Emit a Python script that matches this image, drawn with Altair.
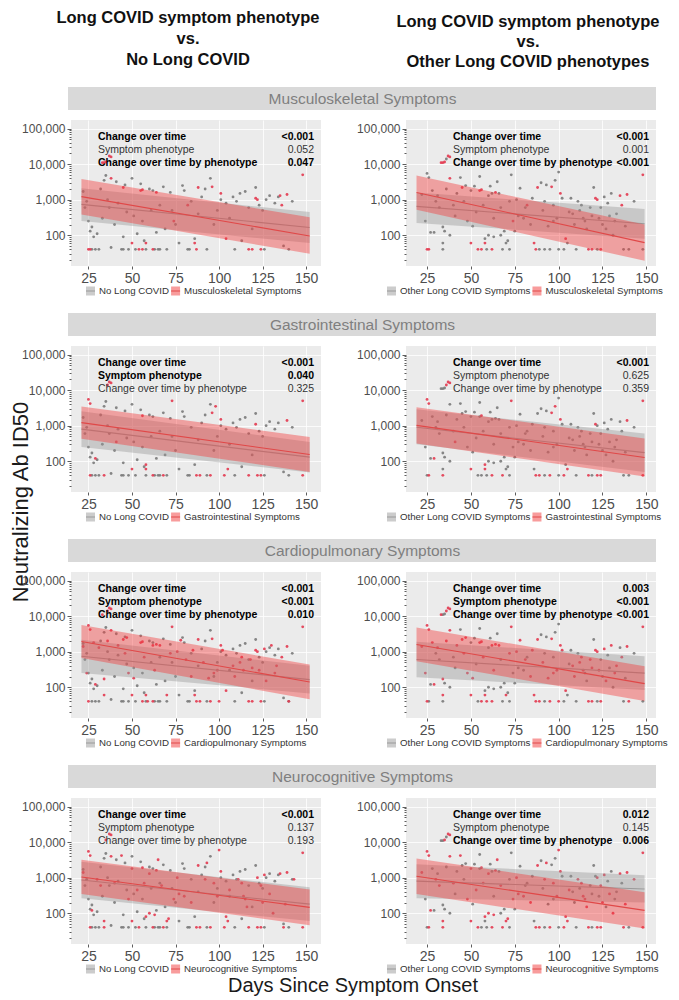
import altair as alt
import pandas as pd

# ---------------- text content ----------------
PHENOTYPES = ["Musculoskeletal Symptoms", "Gastrointestinal Symptoms",
              "Cardiopulmonary Symptoms", "Neurocognitive Symptoms"]
PHENO_CODES = ["M", "G", "C", "N"]
TITLE_LEFT = ["Long COVID symptom phenotype", "vs.", "No Long COVID"]
TITLE_RIGHT = ["Long COVID symptom phenotype", "vs.", "Other Long COVID phenotypes"]
REF_LEFT = "No Long COVID"
REF_RIGHT = "Other Long COVID Symptoms"
TERMS = ["Change over time", "Symptom phenotype", "Change over time by phenotype"]
P_LEFT = [["<0.001", "0.052", "0.047"], ["<0.001", "0.040", "0.325"],
          ["<0.001", "<0.001", "0.010"], ["<0.001", "0.137", "0.193"]]
P_RIGHT = [["<0.001", "0.001", "<0.001"], ["<0.001", "0.625", "0.359"],
           ["0.003", "<0.001", "<0.001"], ["0.012", "0.145", "0.006"]]
BOLD_LEFT = [[1, 0, 1], [1, 1, 0], [1, 1, 1], [1, 0, 0]]
BOLD_RIGHT = [[1, 0, 1], [1, 0, 0], [1, 1, 1], [1, 0, 1]]
X_TICKS = [25, 50, 75, 100, 125, 150]
Y_TICKS = [20, 30, 40, 50, 60, 70, 80, 90, 100, 200, 300, 400, 500, 600, 700, 800, 900,
           1000, 2000, 3000, 4000, 5000, 6000, 7000, 8000, 9000, 10000, 20000, 30000,
           40000, 50000, 60000, 70000, 80000, 90000, 100000]

# ---------------- participants ----------------
NOLC_DAY = [22, 23, 24, 25, 26, 27, 27, 28, 29, 30, 31, 32, 33, 34, 35, 36, 37, 38, 40, 41,
            42, 44, 45, 46, 47, 48, 50, 51, 52, 53, 55, 56, 57, 58, 60, 61, 62, 63, 64, 65,
            66, 68, 69, 70, 72, 73, 75, 77, 79, 80, 82, 84, 86, 88, 90, 92, 93, 95, 97, 99,
            101, 104, 106, 108, 110, 112, 113, 115, 117, 119, 121, 123, 125, 127, 129, 132,
            134, 137, 140, 142, 45, 66, 83, 109, 126]
NOLC_TITER = [1700, 600, 900, 250, 130, 170, 40, 90, 40, 110, 40, 2000, 300, 3500, 4800, 1000,
              600, 45, 200, 3200, 800, 40, 90, 2600, 450, 40, 4000, 350, 40, 110, 2800, 250,
              70, 40, 2000, 500, 1800, 40, 120, 40, 700, 2300, 150, 40, 1600, 500, 200, 60,
              2500, 1800, 40, 900, 80, 400, 1200, 2000, 40, 4000, 200, 500, 1000, 800, 300,
              1200, 900, 1500, 70, 1700, 600, 150, 2200, 700, 500, 1000, 1300, 800, 1200, 50,
              40, 900, 40, 40, 40, 40, 40]

LC_DAY = [22, 24, 25, 26, 25, 26, 27, 29, 30, 31, 33, 34, 35, 36, 37, 38, 34, 35, 34, 34,
          36, 38, 38, 40, 42, 44, 45, 47, 48, 50, 50, 51, 52, 54, 55, 55, 56, 56, 58, 58,
          59, 60, 60, 61, 62, 62, 63, 64, 65, 66, 67, 68, 69, 70, 71, 72, 73, 74, 75, 76,
          78, 80, 82, 85, 86, 87, 88, 89, 90, 91, 92, 93, 94, 95, 96, 97, 98, 99, 100, 100,
          101, 102, 103, 104, 105, 107, 108, 110, 111, 112, 114, 116, 117, 118, 119, 120, 121, 122, 122, 123,
          124, 125, 126, 128, 130, 131, 133, 135, 136, 137, 139, 140, 143, 148, 148,
          28, 32, 41, 46, 53, 57, 63, 67, 72, 77, 81, 84, 92, 97, 106, 109, 113, 115, 119, 124,
          127, 129, 132, 138]
LC_TITER = [1400, 250, 5500, 4200, 40, 40, 120, 120, 900, 1300, 11000, 11000, 11500, 14000, 17000, 16000, 170, 130, 60, 40,
            2000, 4000, 100, 700, 1500, 4200, 2200, 2500, 250, 1800, 60, 180, 2400, 40, 1800, 4500, 1900, 40, 80, 60,
            40, 100, 1300, 2400, 1500, 40, 90, 1600, 3200, 1500, 100, 40, 130, 60, 70, 40, 5000, 250, 130, 1000,
            2100, 300, 700, 1100, 60, 40, 2200, 40, 3000, 500, 40, 2600, 180, 40, 2300, 700, 3500, 300, 6000, 40,
            1500, 1100, 40, 80, 60, 1100, 400, 40, 900, 500, 300, 150, 40, 600, 40, 2200, 1100, 1000, 40, 300,
            40, 200, 1200, 800, 1500, 100, 400, 1300, 700, 40, 1400, 40, 900, 5000, 40,
            1800, 600, 350, 900, 450, 700, 300, 600, 900, 350, 600, 200, 900, 250, 450, 200, 700, 250, 350, 600,
            150, 350, 250, 180]
LC_PHENO = ["CN", "C", "GCN", "GCN", "MC", "MGN", "N", "GC", "N", "C", "MC", "M", "MN", "GC", "MGCN", "MGCN", "C", "", "CN", "GN",
            "C", "MCN", "", "N", "C", "N", "MC", "C", "CN", "N", "MGCN", "C", "", "MN", "MC", "", "MGCN", "MC", "GN", "MGC",
            "C", "N", "N", "", "C", "MGCN", "N", "MCN", "N", "C", "", "GN", "", "CN", "N", "", "GC", "MN", "", "CN",
            "C", "N", "M", "C", "MC", "MGCN", "MCN", "GCN", "", "C", "", "N", "C", "GCN", "MGC", "N", "G", "CN", "N", "C",
            "MGCN", "C", "GN", "MCN", "GN", "", "C", "", "N", "C", "CN", "N", "MGCN", "C", "MC", "", "MGC", "MCN", "GN", "C",
            "MGCN", "N", "CN", "", "C", "N", "C", "MN", "MC", "N", "MGCN", "C", "N", "MGCN", "GN",
            "C", "N", "G", "C", "N", "CN", "C", "N", "C", "N", "C", "CN", "N", "C", "N", "C", "CN", "N", "C", "N",
            "C", "N", "C", "N"]

# ---------------- fitted trajectories (start, end) ----------------
FIT_DAYS_LEFT = [21, 152]
FIT_DAYS_RIGHT = [19, 149]
GRAY_LO_LEFT = [[250, 60], [250, 48], [252, 67], [264, 60]]
GRAY_MID_LEFT = [[740, 165], [800, 130], [742, 164], [860, 180]]
GRAY_HI_LEFT = [[2100, 450], [2560, 350], [2180, 400], [2800, 535]]
RED_LO_LEFT = [[380, 30], [430, 50], [660, 46], [348, 46]]
RED_MID_LEFT = [[1220, 95], [1220, 155], [1940, 140], [1050, 146]]
RED_HI_LEFT = [[3850, 320], [3460, 480], [5680, 433], [3180, 462]]
GRAY_LO_RIGHT = [[222, 80], [300, 50], [190, 84], [264, 200]]
GRAY_MID_RIGHT = [[650, 210], [900, 175], [600, 250], [800, 480]]
GRAY_HI_RIGHT = [[1600, 550], [2900, 600], [1900, 745], [2400, 1170]]
RED_LO_RIGHT = [[525, 19], [314, 37], [535, 41], [348, 37]]
RED_MID_RIGHT = [[1600, 62], [1018, 127], [1600, 126], [1100, 120]]
RED_HI_RIGHT = [[4770, 200], [3300, 433], [4770, 390], [3460, 390]]

# ---------------- style ----------------
FONT = "Liberation Sans"
PW, PH = 250, 146
GAP = 85
BAND_GRAY, BAND_RED = "#999999", "#F23A3A"
LINE_GRAY, LINE_RED = "#9A9A9A", "#E04848"
PT_GRAY, PT_RED = "#7A7A7A", "#E33A50"
LEG_FONT = 9.7

# approximate Liberation Sans (Arial-metric) advance widths, per 1000 em, for legend layout
_W = {" ": 278, "A": 667, "C": 722, "D": 722, "G": 778, "I": 278, "L": 556, "M": 833,
      "N": 722, "O": 778, "S": 667, "V": 667, "a": 556, "c": 500, "e": 556, "g": 556,
      "h": 556, "i": 222, "k": 500, "l": 222, "m": 833, "n": 556, "o": 556, "p": 556,
      "r": 333, "s": 500, "t": 278, "u": 556, "v": 500, "y": 500}


def text_width(s, size):
    return sum(_W.get(ch, 556) for ch in s) * size / 1000.0


DECADE = "datum.value == 100 || datum.value == 1000 || datum.value == 10000 || datum.value == 100000"

xaxis = alt.Axis(values=X_TICKS, title=None, labelFontSize=14, labelColor="#4D4D4D",
                 tickColor="#333333", tickSize=3, tickWidth=0.8, labelPadding=2,
                 domain=False, grid=True, gridColor="white", gridWidth=0.8, format="d",
                 labelFont=FONT)
yaxis = alt.Axis(values=Y_TICKS, title=None, labelFontSize=12, labelColor="#4D4D4D",
                 labelExpr=f"({DECADE}) ? format(datum.value, ',') : ''",
                 labelOverlap=False, tickColor="#333333",
                 tickSize={"condition": {"test": DECADE, "value": 4}, "value": 2},
                 tickWidth=0.8, labelPadding=2, domain=False, grid=True, gridColor="white",
                 gridOpacity={"condition": {"test": DECADE, "value": 1}, "value": 0},
                 gridWidth=0.8, labelFont=FONT)
yscale = alt.Scale(type="log", domain=[13.6, 175000], nice=False)


def one_text(s):
    return alt.Chart(pd.DataFrame({"t": [s]}))


def make_panel(i, left):
    ref = REF_LEFT if left else REF_RIGHT
    ph = PHENOTYPES[i]
    code = PHENO_CODES[i]
    xscale = alt.Scale(domain=[15, 158.5] if left else [13, 155.5], nice=False, zero=False)

    rows = []
    if left:
        for d, t in zip(NOLC_DAY, NOLC_TITER):
            rows.append((d, t, ref))
        for d, t, c in zip(LC_DAY, LC_TITER, LC_PHENO):
            if code in c:
                rows.append((d, t, ph))
    else:
        for d, t, c in zip(LC_DAY, LC_TITER, LC_PHENO):
            rows.append((d, t, ph if code in c else ref))
    pts = pd.DataFrame(rows, columns=["day", "titer", "grp"])

    days = FIT_DAYS_LEFT if left else FIT_DAYS_RIGHT
    if left:
        g = (GRAY_LO_LEFT[i], GRAY_MID_LEFT[i], GRAY_HI_LEFT[i])
        r = (RED_LO_LEFT[i], RED_MID_LEFT[i], RED_HI_LEFT[i])
    else:
        g = (GRAY_LO_RIGHT[i], GRAY_MID_RIGHT[i], GRAY_HI_RIGHT[i])
        r = (RED_LO_RIGHT[i], RED_MID_RIGHT[i], RED_HI_RIGHT[i])
    fit_rows = []
    for grp, (lo, mid, hi) in [(ref, g), (ph, r)]:
        for k, d in enumerate(days):
            fit_rows.append((d, lo[k], mid[k], hi[k], grp))
    fit = pd.DataFrame(fit_rows, columns=["day", "lo", "mid", "hi", "grp"])

    X = alt.X("day:Q", scale=xscale, axis=xaxis)

    layers = []
    for grp, col in [(ref, PT_GRAY), (ph, PT_RED)]:
        layers.append(
            alt.Chart(pts).transform_filter(alt.datum.grp == grp)
            .mark_circle(size=8, opacity=0.9, color=col)
            .encode(x=X, y=alt.Y("titer:Q", scale=yscale, axis=yaxis))
        )
    for grp, bcol, lcol in [(ref, BAND_GRAY, LINE_GRAY), (ph, BAND_RED, LINE_RED)]:
        layers.append(
            alt.Chart(fit).transform_filter(alt.datum.grp == grp)
            .mark_area(fillOpacity=0.42, color=bcol)
            .encode(x=X, y=alt.Y("lo:Q", scale=yscale, axis=yaxis), y2="hi:Q")
        )
        layers.append(
            alt.Chart(fit).transform_filter(alt.datum.grp == grp)
            .mark_line(strokeWidth=1.1, color=lcol)
            .encode(x=X, y=alt.Y("mid:Q", scale=yscale, axis=yaxis))
        )

    # p-value annotations
    ps = P_LEFT[i] if left else P_RIGHT[i]
    bold = BOLD_LEFT[i] if left else BOLD_RIGHT[i]
    lx = 27 if left else 47
    vx = 243
    for k in range(3):
        weight = "bold" if bold[k] else "normal"
        color = "#000000" if bold[k] else "#333333"
        yy = 17 + 13 * k
        layers.append(
            one_text(TERMS[k])
            .mark_text(align="left", baseline="middle", fontSize=10.5, fontWeight=weight,
                       color=color, font=FONT)
            .encode(x=alt.value(lx), y=alt.value(yy), text="t:N"))
        layers.append(
            one_text(ps[k])
            .mark_text(align="right", baseline="middle", fontSize=10.5, fontWeight=weight,
                       color=color, font=FONT)
            .encode(x=alt.value(vx), y=alt.value(yy), text="t:N"))

    # legend below the panel
    lx0 = 15 if left else -19
    cy = 171
    sq = 9
    sq1_left = lx0
    lab1_x = sq1_left + sq + 4
    sq2_left = lab1_x + text_width(ref, LEG_FONT) + 2
    lab2_x = sq2_left + sq + 4
    for sleft, bcol, lcol, lab, labx in [(sq1_left, BAND_GRAY, LINE_GRAY, ref, lab1_x),
                                         (sq2_left, BAND_RED, LINE_RED, ph, lab2_x)]:
        layers.append(
            one_text(lab).mark_square(size=sq * sq, color=bcol, opacity=0.5)
            .encode(x=alt.value(sleft + sq / 2), y=alt.value(cy)))
        layers.append(
            one_text(lab).mark_rule(color=lcol, strokeWidth=1)
            .encode(x=alt.value(sleft), x2=alt.value(sleft + sq), y=alt.value(cy)))
        layers.append(
            one_text(lab).mark_text(align="left", baseline="middle", fontSize=LEG_FONT,
                                    color="#333333", font=FONT)
            .encode(x=alt.value(labx), y=alt.value(cy), text="t:N"))

    if left:
        layers.append(
            one_text(ph).mark_rect(color="#D9D9D9")
            .encode(x=alt.value(-3), x2=alt.value(PW * 2 + GAP), y=alt.value(-33), y2=alt.value(-10)))
        layers.append(
            one_text(ph)
            .mark_text(align="center", baseline="middle", fontSize=15.5, color="#7F7F7F", font=FONT)
            .encode(x=alt.value((PW * 2 + GAP) / 2 - 1), y=alt.value(-21), text="t:N"))
        if i == 0:
            for k, (tl, tr) in enumerate(zip(TITLE_LEFT, TITLE_RIGHT)):
                layers.append(
                    one_text(tl)
                    .mark_text(align="center", baseline="middle", fontSize=16.5, fontWeight="bold",
                               color="#111111", font=FONT)
                    .encode(x=alt.value(117), y=alt.value(-102 + 21 * k), text="t:N"))
                layers.append(
                    one_text(tr)
                    .mark_text(align="center", baseline="middle", fontSize=16.5, fontWeight="bold",
                               color="#111111", font=FONT)
                    .encode(x=alt.value(457), y=alt.value(-98 + 20 * k), text="t:N"))
        if i == 1:
            layers.append(
                one_text("Neutralizing Ab ID50")
                .mark_text(align="center", baseline="middle", fontSize=22, angle=270,
                           color="#1A1A1A", font=FONT)
                .encode(x=alt.value(-50), y=alt.value(156), text="t:N"))
        if i == 3:
            layers.append(
                one_text("Days Since Symptom Onset")
                .mark_text(align="center", baseline="middle", fontSize=20,
                           color="#1A1A1A", font=FONT)
                .encode(x=alt.value(282), y=alt.value(188), text="t:N"))

    return alt.layer(*layers).properties(width=PW, height=PH)


panels = []
for i in range(4):
    panels.append(make_panel(i, True))
    panels.append(make_panel(i, False))

chart = (
    alt.concat(*panels, columns=2, spacing={"row": 80, "column": GAP}, bounds="flush")
    .resolve_scale(x="independent", y="independent")
    .properties(padding={"left": 2, "top": 2, "right": 0, "bottom": 0}, background="white")
    .configure(font=FONT)
    .configure_view(fill="#EBEBEB", stroke=None)
)

chart.save("out.html", embed_options={"renderer": "svg", "actions": False})
